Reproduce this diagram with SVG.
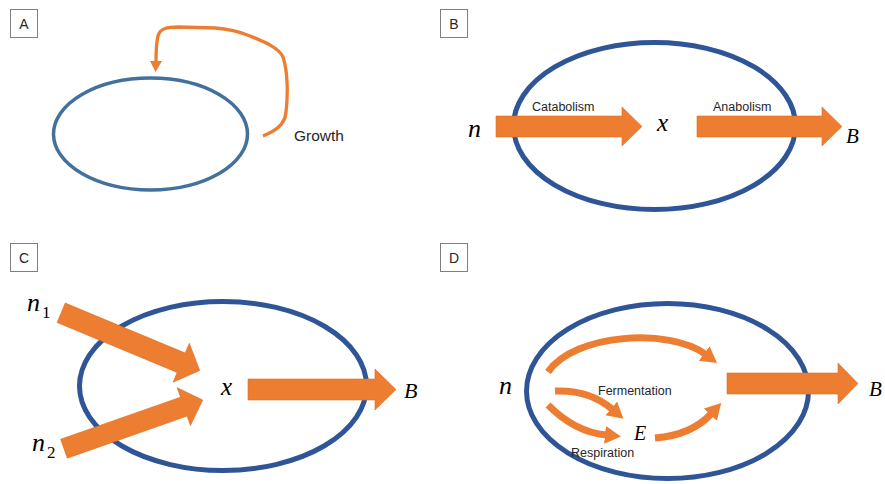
<svg xmlns="http://www.w3.org/2000/svg" width="885" height="484" viewBox="0 0 885 484">
<style>
.lbl{fill:#fff;stroke:#7f7f7f;stroke-width:1}
.lt{font-family:"Liberation Sans",Arial,sans-serif;font-size:14px;fill:#262626;text-anchor:middle}
.cell{fill:none;stroke:#2F5597;stroke-width:5}
.blk{fill:#ED7D31;stroke:#E07020;stroke-width:0.6}
.txt{font-family:"Liberation Sans",Arial,sans-serif;font-size:12.5px;fill:#262626}
.m{font-family:"Liberation Serif","Times New Roman",serif;font-style:italic;fill:#000}
.sub{font-family:"Liberation Serif","Times New Roman",serif;font-size:17px;fill:#000}
.crv{fill:none;stroke:#ED7D31;stroke-width:7}
</style>
<defs>
<marker id="ah" markerUnits="userSpaceOnUse" markerWidth="18" markerHeight="20" refX="1" refY="9" orient="auto">
<path d="M0,0 L16,9 L0,18 Z" fill="#ED7D31"/>
</marker>
</defs>

<g id="panelA">
<g id="labelA"><rect class="lbl" x="10.5" y="9.5" width="27" height="28"/><text class="lt" x="24" y="29">A</text></g>
<g id="cellA"><ellipse cx="150.5" cy="134" rx="97" ry="56" fill="none" stroke="#41719C" stroke-width="3.5"/></g>
<g id="growthLabel"><text class="txt" x="294" y="141" style="font-size:15.5px">Growth</text></g>
</g>

<g id="panelB">
<g id="labelB"><rect class="lbl" x="440.5" y="9.5" width="27" height="28"/><text class="lt" x="454" y="29">B</text></g>
<g id="cellB"><ellipse class="cell" cx="654.5" cy="126" rx="141" ry="83.5"/></g>
<g id="nB"><text class="m" x="468" y="137" font-size="26">n</text></g>
<g id="xB"><text class="m" x="657" y="131" font-size="25">x</text></g>
<g id="BB"><text class="m" x="846" y="143" font-size="21">B</text></g>
</g>

<g id="panelC">
<g id="labelC"><rect class="lbl" x="10.5" y="243.5" width="27" height="28"/><text class="lt" x="24" y="263">C</text></g>
<g id="cellC"><ellipse class="cell" cx="223" cy="386" rx="143.5" ry="84.5"/></g>
<g id="n1"><text class="m" x="27" y="311" font-size="26">n</text><text class="sub" x="42" y="318">1</text></g>
<g id="n2"><text class="m" x="32" y="451" font-size="26">n</text><text class="sub" x="47" y="458">2</text></g>
<g id="xC"><text class="m" x="221" y="395" font-size="25">x</text></g>
<g id="BC"><text class="m" x="404" y="398" font-size="22">B</text></g>
</g>

<g id="panelD">
<g id="labelD"><rect class="lbl" x="440.5" y="243.5" width="27" height="28"/><text class="lt" x="454" y="263">D</text></g>
<g id="cellD"><ellipse class="cell" cx="667.5" cy="391" rx="141" ry="87.5"/></g>
<g id="nD"><text class="m" x="499" y="394" font-size="26">n</text></g>
<g id="ED"><text class="m" x="634" y="440" font-size="20">E</text></g>
<g id="BD"><text class="m" x="869" y="396" font-size="21">B</text></g>
<g id="fermLabel"><text class="txt" x="598" y="395">Fermentation</text></g>
<g id="respLabel"><text class="txt" x="571" y="457">Respiration</text></g>
</g>

<g id="connectors">
<path d="M263,136 C275,131 285,125 286,112 C288,95 288,72 283,57 C279,48 265,42 250,36 C238,31 230,29 215,28 L178,27 C168,27 160,28 158,36 C156,44 156,52 156,62" fill="none" stroke="#ED7D31" stroke-width="3.3"/>
<polygon points="150,61 162,61 155.5,72" fill="#ED7D31"/>

<g class="catabolism">
<polygon class="blk" points="496,116 622,116 622,107 642,126.5 622,146 622,137 496,137"/>
<text class="txt" x="532" y="111">Catabolism</text>
</g>
<g class="anabolism">
<polygon class="blk" points="697,116 822,116 822,107 842,126.5 822,146 822,137 697,137"/>
<text class="txt" x="713" y="111">Anabolism</text>
</g>

<path class="blk" d="M0,-10.5 L130,-10.5 L130,-21 L150,0 L130,21 L130,10.5 L0,10.5 Z" transform="translate(61.2,312.8) rotate(22.6)"/>
<path class="blk" d="M0,-10 L127,-10 L127,-20 L147,0 L127,20 L127,10 L0,10 Z" transform="translate(64,448.7) rotate(-19.35)"/>
<polygon class="blk" points="248,379 375,379 375,369 396,389.5 375,410 375,400 248,400"/>

<polygon class="blk" points="727,373 838,373 838,363 858,383.5 838,404 838,394 727,394"/>
<path class="crv" d="M548,372 C575,333 670,328 705,354" marker-end="url(#ah)"/>
<path class="crv" d="M555,391 C578,390 598,397 612,409" marker-end="url(#ah)"/>
<path class="crv" d="M548,405 C565,422 585,433 606,435" marker-end="url(#ah)"/>
<path class="crv" d="M655,438 C680,436 698,428 711,414" marker-end="url(#ah)"/>
</g>
</svg>
